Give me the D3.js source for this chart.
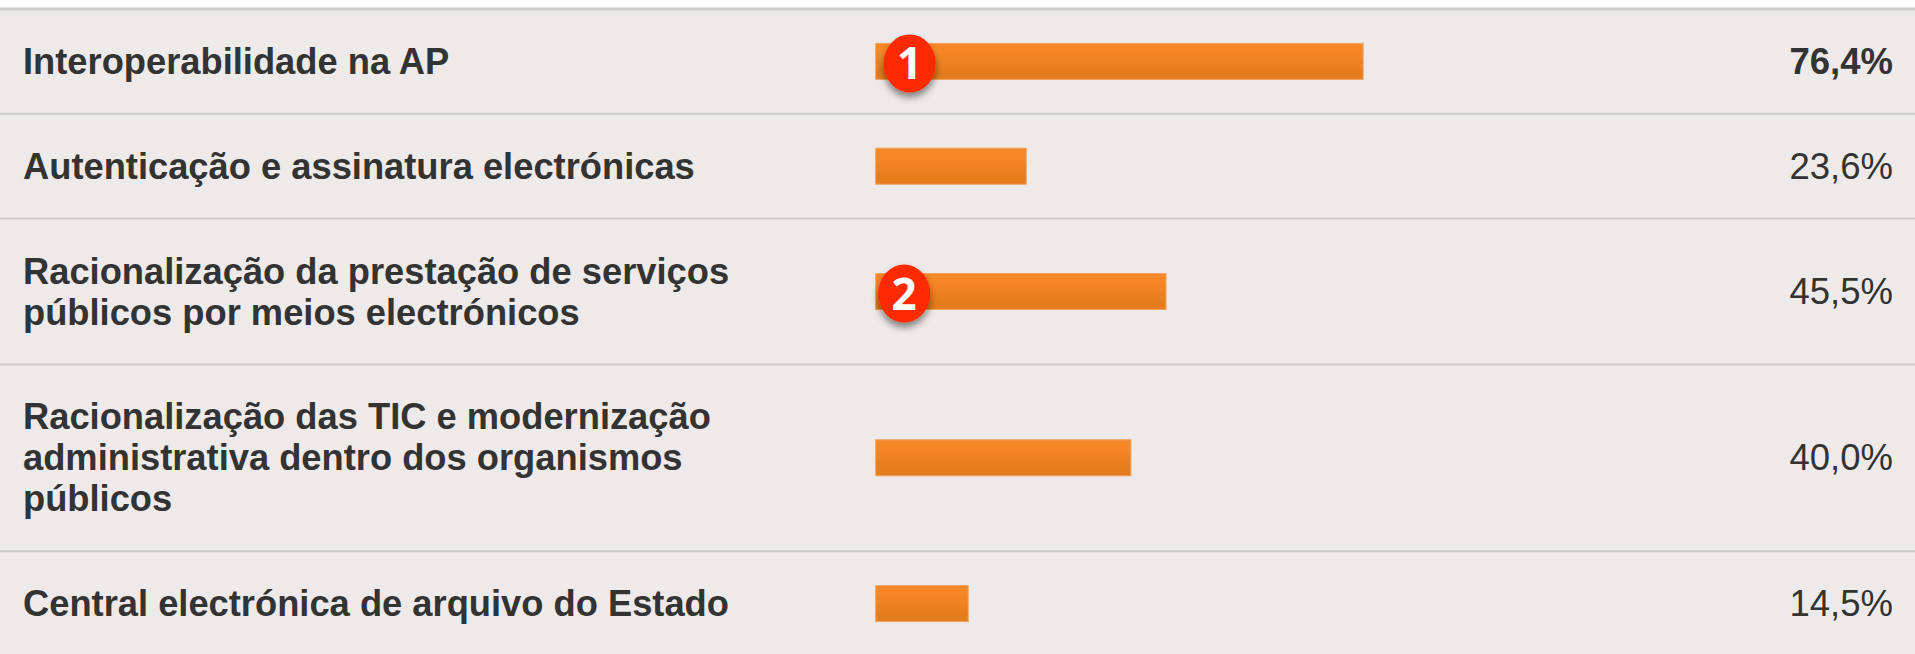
<!DOCTYPE html>
<html>
<head>
<meta charset="utf-8">
<title>Medidas</title>
<style>
    html, body { margin: 0; padding: 0; background: #fff; overflow: hidden; }
    svg { display: block; }
    text { font-family: "Liberation Sans", Arial, sans-serif; fill: #333; }
    .label { font-weight: bold; font-size: 36.3px; }
    .value { font-size: 36.5px; text-anchor: end; }
    .value.top { font-weight: bold; }
    .badge text { font-family: "Open Sans", sans-serif; font-weight: bold; font-size: 44px; fill: #fff; text-anchor: middle; }
</style>
<script src="https://d3js.org/d3.v7.min.js"></script>
</head>
<body>
<svg width="1915" height="654"></svg>
<script>
var categories = [
    ["Interoperabilidade na AP"],
    ["Autenticação e assinatura electrónicas"],
    ["Racionalização da prestação de serviços", "públicos por meios electrónicos"],
    ["Racionalização das TIC e modernização", "administrativa dentro dos organismos", "públicos"],
    ["Central electrónica de arquivo do Estado"]
];
var values = [76.4, 23.6, 45.5, 40.0, 14.5];
var valueLabels = ["76,4%", "23,6%", "45,5%", "40,0%", "14,5%"];
var badgeRows = [0, 2];
var badgeNames = ["1", "2"];

var svg = d3.select("svg");
var top0 = 9, lineH = 41, rowPad = 63.8;

// rows grow with the number of wrapped lines
var y0 = top0;
var rows = categories.map(function(c) {
    var h = rowPad + c.length * lineH;
    var r = { y: y0, h: h, mid: y0 + h / 2 };
    y0 += h;
    return r;
});

var x = d3.scaleLinear().domain([0, 100]).range([875.7, 1513.7]);

var defs = svg.append("defs");
var grad = defs.append("linearGradient").attr("id", "barFill")
    .attr("x1", 0).attr("y1", 0).attr("x2", 0).attr("y2", 1);
grad.append("stop").attr("offset", "25%").attr("stop-color", "#f58726");
grad.append("stop").attr("offset", "80%").attr("stop-color", "#e57c1e");

var shadow = defs.append("filter").attr("id", "shadow")
    .attr("x", "-30%").attr("y", "-30%").attr("width", "160%").attr("height", "170%");
shadow.append("feDropShadow").attr("dx", 0).attr("dy", 5).attr("stdDeviation", 3.5)
    .attr("flood-color", "#000").attr("flood-opacity", 0.45);

svg.append("rect").attr("x", 0).attr("y", top0).attr("width", 1915).attr("height", 654 - top0)
    .attr("fill", "#eeeae9");

var lines = [top0].concat(rows.slice(0, -1).map(function(r) { return r.y + r.h; }));
svg.selectAll(".sep").data(lines).enter().append("line")
    .attr("class", "sep")
    .attr("x1", 0).attr("x2", 1915)
    .attr("y1", function(d) { return d; })
    .attr("y2", function(d) { return d; })
    .attr("stroke", "#cdcbca")
    .attr("stroke-width", function(d, i) { return i == 0 ? 3 : 2; });

// labels
var label = svg.selectAll(".label").data(categories).enter().append("text")
    .attr("class", "label");
label.selectAll("tspan").data(function(d, i) {
        return d.map(function(t, j) { return { t: t, j: j, n: d.length, mid: rows[i].mid }; });
    }).enter().append("tspan")
    .attr("x", 23)
    .attr("y", function(d) { return d.mid + (d.j - (d.n - 1) / 2) * lineH + 12.5; })
    .text(function(d) { return d.t; });

// bars
svg.selectAll(".bar").data(values).enter().append("rect")
    .attr("class", "bar")
    .attr("x", x(0))
    .attr("y", function(d, i) { return rows[i].mid - 18; })
    .attr("width", function(d) { return x(d) - x(0); })
    .attr("height", 36)
    .attr("fill", "url(#barFill)")
    .attr("stroke", "#f5a25c")
    .attr("stroke-width", 1);

// values
svg.selectAll(".value").data(valueLabels).enter().append("text")
    .attr("class", function(d, i) { return i == 0 ? "value top" : "value"; })
    .attr("x", 1893)
    .attr("y", function(d, i) { return rows[i].mid + 12.5; })
    .text(function(d) { return d; });

// numbered badges, hand placed over the start of the bar
var badgeDx = [34, 28.5];
var badge = svg.selectAll(".badge").data(badgeRows).enter().append("g")
    .attr("class", "badge")
    .attr("transform", function(d, i) { return "translate(" + (x(0) + badgeDx[i]) + "," + (rows[d].mid + 2) + ")"; });
badge.append("ellipse")
    .attr("rx", 26).attr("ry", 29)
    .attr("fill", "#ff2a00")
    .attr("filter", "url(#shadow)");
badge.append("text")
    .attr("y", 16)
    .text(function(d, i) { return badgeNames[i]; });
</script>
</body>
</html>
